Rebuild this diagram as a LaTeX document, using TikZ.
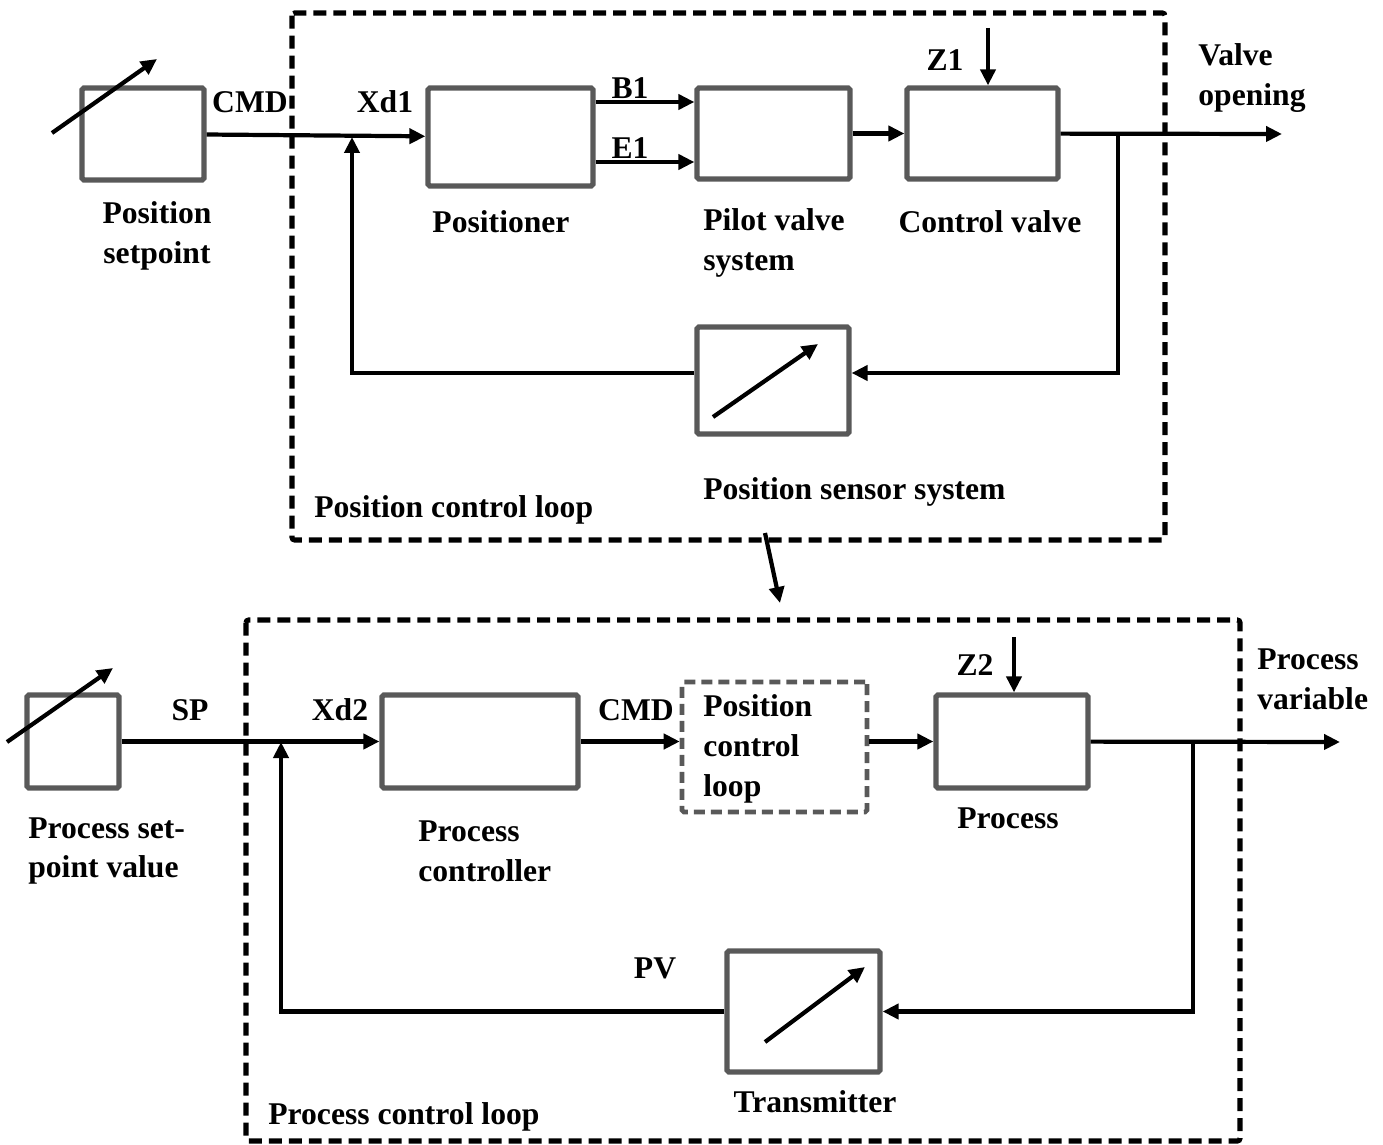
\documentclass[tikz,border=0pt]{standalone}
\usepackage{fontspec}
\setmainfont{Liberation Serif}
\usetikzlibrary{arrows.meta}

\definecolor{blkgray}{RGB}{89,89,89}
\tikzset{
  blk/.style={draw=blkgray, line width=3pt, rounded corners=1pt, inner sep=0pt},
  lbl/.style={font=\fontsize{18}{22.7}\selectfont\bfseries, inner sep=0pt},
  sig/.style={line width=2.4pt, -{Triangle[length=0.32cm,width=0.3cm]}},
  loopbox/.style={line width=2.9pt, rounded corners=1.5pt, dash pattern=on 0.26cm off 0.14cm},
}

\begin{document}
\begin{tikzpicture}[x=0.02cm,y=-0.02cm]
\useasboundingbox (0,0) rectangle (1383,1145);

% position control loop
\node[blk, minimum width=2.44cm, minimum height=1.84cm] (ps) at (143,134) {};
\node[blk, minimum width=3.3cm, minimum height=1.96cm] (pos) at (510.5,137) {};
\node[blk, minimum width=3.06cm, minimum height=1.82cm] (pvs) at (773.5,133.5) {};
\node[blk, minimum width=3.02cm, minimum height=1.82cm] (cv) at (982.5,133.5) {};
\node[blk, minimum width=3.04cm, minimum height=2.14cm] (sens) at (773,380.5) {};

\node[lbl, align=center] (psL) at (157,236) {Position\\setpoint};
\node[lbl] (cmd1) at (250,102) {CMD};
\node[lbl] (xd1) at (385,102) {Xd1};
\node[lbl] (posL) at (501,222) {Positioner};
\node[lbl] (b1L) at (630,88) {B1};
\node[lbl] (e1L) at (630,148) {E1};
\node[lbl, align=left, anchor=west] (pvsL) at (703,243) {Pilot valve\\system};
\node[lbl] (cvL) at (990,222) {Control valve};
\node[lbl] (z1L) at (945,60) {Z1};
\node[lbl, align=left, anchor=west] (voL) at (1198,78) {Valve\\opening};
\node[lbl, anchor=west] (sensL) at (703,492) {Position sensor system};
\node[lbl, anchor=west] (loop1L) at (314,510) {Position control loop};

\coordinate (j1) at (352,137);
\coordinate (j2) at (1118,134);
\coordinate (vo) at (1282,134);
\coordinate (z1) at (988,28);
\coordinate (b1) at ([yshift=0.63cm]pvs.west);
\coordinate (e1) at ([yshift=-0.57cm]pvs.west);

\path[sig]
(ps) edge (pos)
(b1 -| pos.east) edge (b1)
(e1 -| pos.east) edge (e1)
(pvs) edge (cv)
(cv) edge (vo)
(z1) edge (z1 |- cv.north);

% feedback 1
\draw[sig] (j2) |- ([yshift=0.15cm]sens.east);
\draw[sig] ([yshift=0.15cm]sens.west) -| (j1);

% adjustable arrows
\draw[sig] (52,133) -- (157,59);
\draw[sig] (713,417) -- (818,344);

\draw[loopbox] (292,13) rectangle (1165,540);

% link between loops
\coordinate (l1) at (765,533);
\coordinate (l2) at (780,603);
\draw[sig] (l1) -- (l2);

% process control loop
\node[blk, minimum width=1.84cm, minimum height=1.86cm] (psp) at (73,741.5) {};
\node[blk, minimum width=3.92cm, minimum height=1.86cm] (pc) at (480,741.5) {};
\node[blk, line width=2.6pt, dash pattern=on 0.22cm off 0.12cm, minimum width=3.7cm, minimum height=2.6cm] (pcl) at (774.5,747) {};
\node[blk, minimum width=3.04cm, minimum height=1.86cm] (proc) at (1012,741.5) {};
\node[blk, minimum width=3.06cm, minimum height=2.42cm] (tr) at (803.5,1011.5) {};

\node[lbl] (spL) at (190,710) {SP};
\node[lbl] (xd2) at (340,710) {Xd2};
\node[lbl, align=left, anchor=west] (pspL) at (28,851) {Process set-\\point value};
\node[lbl, align=left, anchor=west] (pcL) at (418,851) {Process\\controller};
\node[lbl] (cmd2) at (636,710) {CMD};
\node[lbl, align=left, anchor=west] (pclL) at (703,749) {Position\\control\\loop};
\node[lbl] (procL) at (1008,818) {Process};
\node[lbl] (z2L) at (975,665) {Z2};
\node[lbl, align=left, anchor=west] (pvL) at (1257,679) {Process\\variable};
\node[lbl] (pvsig) at (655,968) {PV};
\node[lbl] (trL) at (815,1102) {Transmitter};
\node[lbl, anchor=west] (loop2L) at (268,1117) {Process control loop};

\coordinate (j3) at (281,742);
\coordinate (j4) at (1193,742);
\coordinate (pvo) at (1340,742);
\coordinate (z2) at (1014,637);

\path[sig]
(psp) edge (pc)
(pc) edge (pc -| pcl.west)
(pcl.east |- proc) edge (proc)
(proc) edge (pvo)
(z2) edge (z2 |- proc.north);

% feedback 2
\draw[sig] (j4) |- (tr);
\draw[sig] (tr) -| (j3);

\draw[sig] (7,742) -- (113,668);
\draw[sig] (765,1042) -- (865,967);

\draw[loopbox] (246,620) rectangle (1240,1141);

\end{tikzpicture}
\end{document}
